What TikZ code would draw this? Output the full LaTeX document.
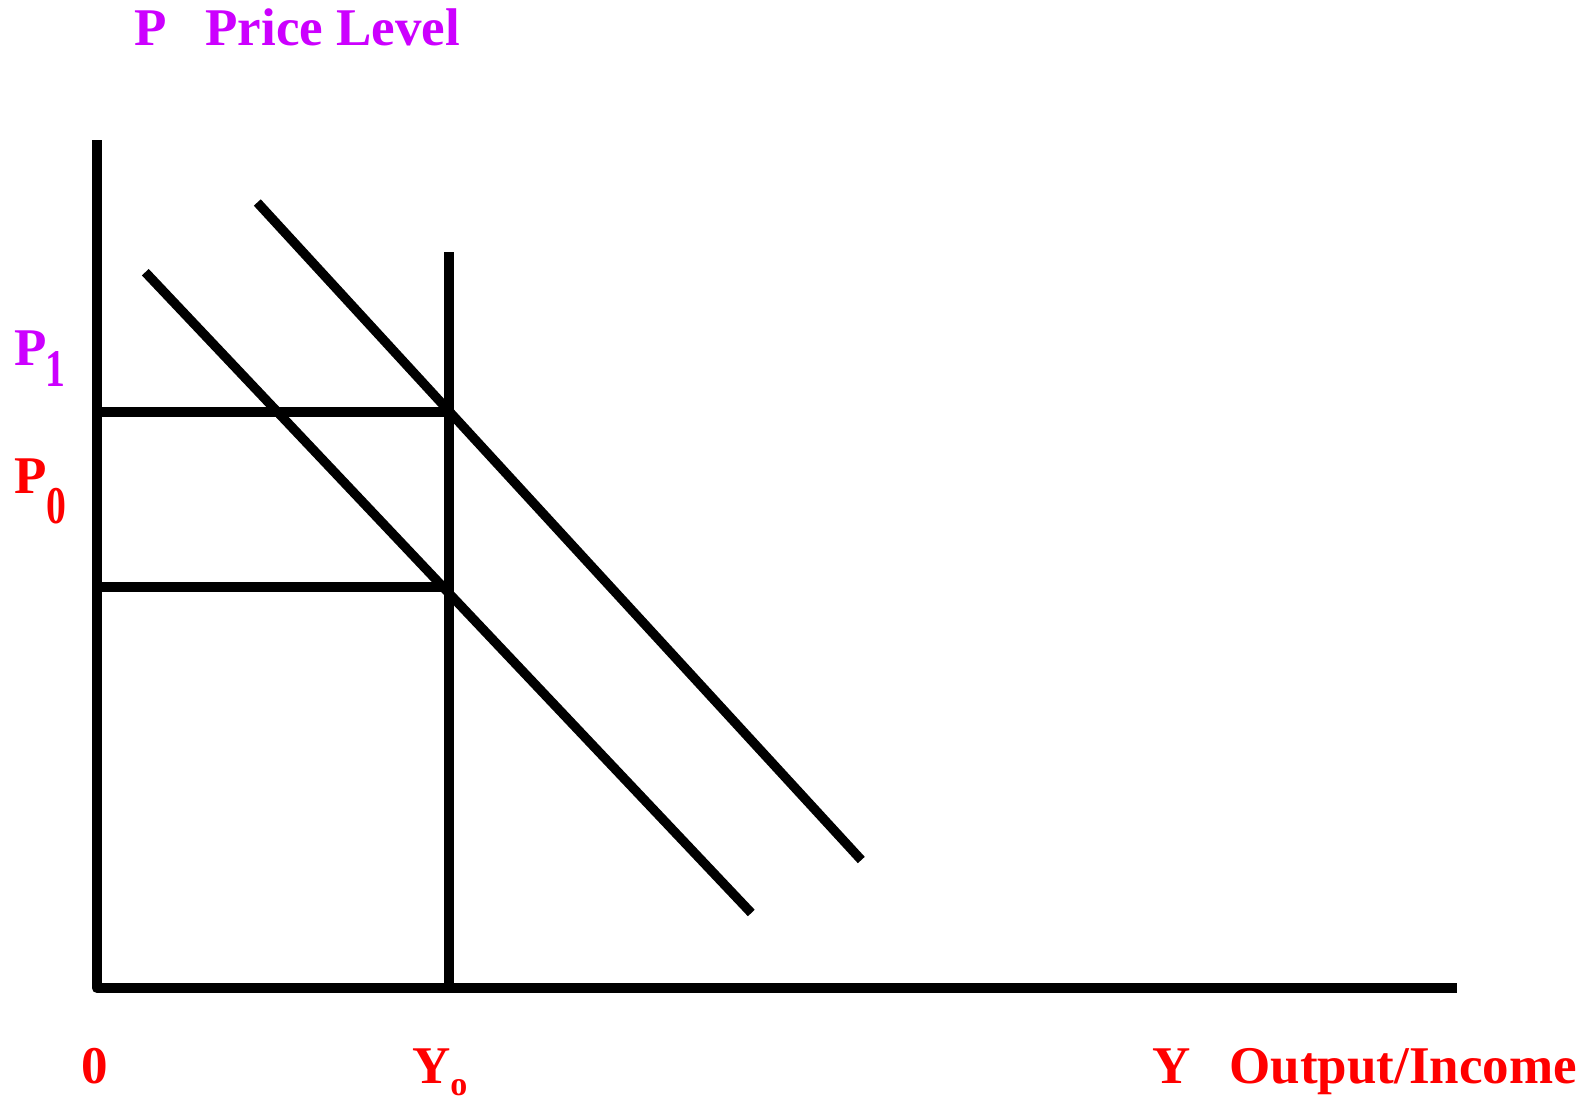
\documentclass[tikz,border=0pt]{standalone}
\usepackage{fontspec}
\setmainfont{Liberation Serif}
\definecolor{plabel}{RGB}{204,0,255}
\definecolor{ylabel}{RGB}{255,0,0}
\tikzset{
  axis/.style={line width=5.2pt, line join=round},
  curve/.style={line width=4.7pt, line cap=butt},
  guide/.style={line width=5pt},
  lab/.style={anchor=base west, inner sep=0pt, font=\bfseries\fontsize{26.5}{30}\selectfont},
  sublab/.style={anchor=base west, inner sep=0pt, font=\bfseries\fontsize{26.5}{30}\selectfont},
  smalllab/.style={anchor=base west, inner sep=0pt, font=\bfseries\fontsize{17}{19}\selectfont},
}
\begin{document}
\begin{tikzpicture}[x=0.5pt,y=-0.5pt]
\useasboundingbox (0,0) rectangle (1596,1103);
% coordinates
\coordinate (ytop) at (97,140);
\coordinate (origin) at (97,988);
\coordinate (xend) at (1457,988);
\coordinate (ytopv) at (448.5,252);
\coordinate (ybot) at (448.5,988);
\coordinate (p1l) at (97,411.5);
\coordinate (p1r) at (448.5,411.5);
\coordinate (p0l) at (97,587);
\coordinate (p0r) at (448.5,587);
\coordinate (ad0a) at (145.3,272.2);
\coordinate (ad0b) at (751.3,913);
\coordinate (ad1a) at (257.3,202.5);
\coordinate (ad1b) at (861.3,860);
% lines
\draw[axis] (ytop) -- (origin) -- (xend);
\draw[guide] (ytopv) -- (ybot);
\draw[guide] (p1l) -- (p1r);
\draw[guide] (p0l) -- (p0r);
\draw[curve] (ad0a) -- (ad0b);
\draw[curve] (ad1a) -- (ad1b);
% labels
\node[lab, text=plabel] (pt) at (134,45) {P};
\node[lab, text=plabel] (pl) at (205,45) {Price Level};
\node[lab, text=plabel] (p1) at (14,365) {P};
\node[sublab, text=plabel] (p1s) at (45,386) {\scalebox{0.75}[1]{1}};
\node[lab, text=ylabel] (p0) at (14,493) {P};
\node[sublab, text=ylabel] (p0s) at (46,523) {\scalebox{0.75}[1]{0}};
\node[lab, text=ylabel] (zero) at (81,1083) {0};
\node[lab, text=ylabel] (yo) at (412,1083) {Y};
\node[smalllab, text=ylabel] (yos) at (450,1095) {o};
\node[lab, text=ylabel] (yy) at (1152,1083) {Y};
\node[lab, text=ylabel] (yl) at (1229,1083) {Output/Income};
\end{tikzpicture}
\end{document}
